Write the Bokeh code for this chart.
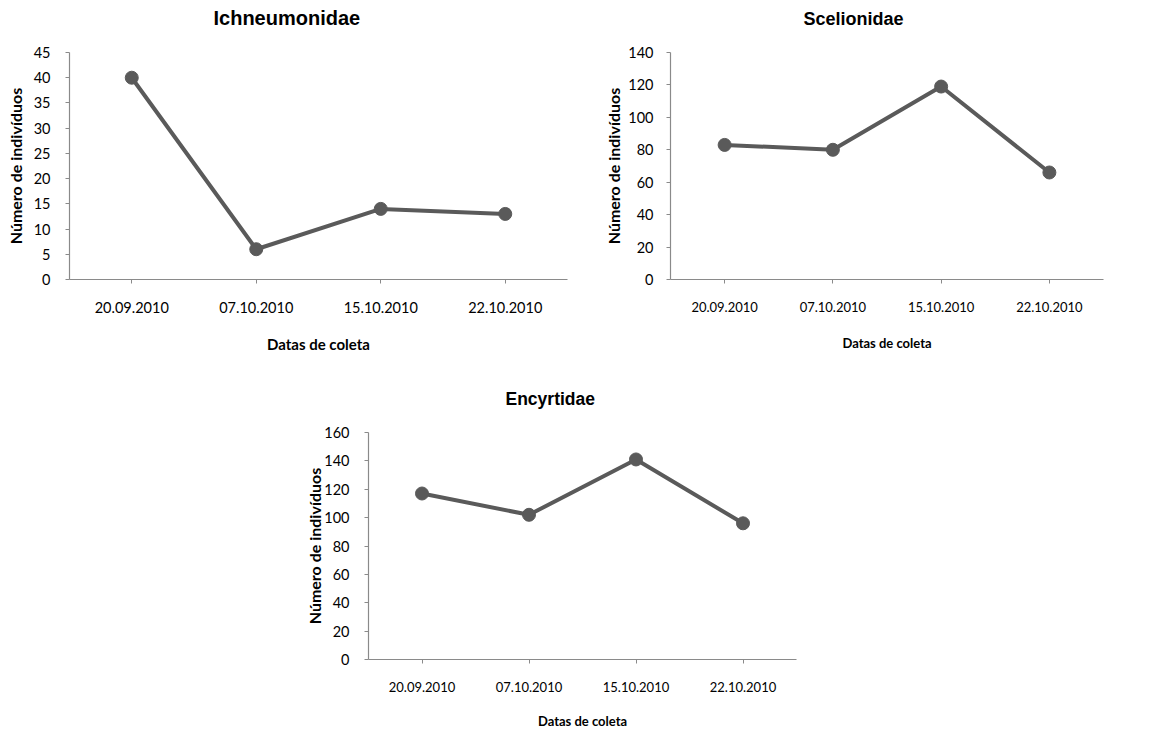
from bokeh.plotting import figure
from bokeh.layouts import column, row
from bokeh.models import Range1d, FixedTicker, Spacer, FactorRange
from bokeh.embed import file_html
from bokeh.resources import INLINE

# ---- data ----
dates = ["20.09.2010", "07.10.2010", "15.10.2010", "22.10.2010"]
ichneumonidae = [40, 6, 14, 13]
scelionidae = [83, 80, 119, 66]
encyrtidae = [117, 102, 141, 96]

titles = ["Ichneumonidae", "Scelionidae", "Encyrtidae"]
y_max = [45, 140, 160]
y_step = [5, 20, 20]

LINE = "#5a5a5a"
AXIS = "#8a8a8a"


def make(title, values, ymax, ystep, width, height, bl, br, bt, bb,
         tick_std, lab_std, title_off, title_size="20px",
         xtick_size="14.5px", xlab_size="15px", xtick_std=18, xlab_std=19,
         margin=None):
    kw = {}
    if margin is not None:
        kw["margin"] = margin
    p = figure(width=width, height=height, x_range=FactorRange(*dates),
               y_range=Range1d(0, ymax), output_backend="svg",
               toolbar_location=None,
               min_border_left=bl, min_border_right=br,
               min_border_top=bt, min_border_bottom=bb, **kw)
    p.title.text = title
    p.title.align = "left"
    p.title.offset = title_off
    p.title.standoff = 48
    p.title.text_font = "Liberation Sans"
    p.title.text_font_size = title_size
    p.title.text_font_style = "bold"
    p.title.text_color = "#000000"
    p.outline_line_color = None
    p.xgrid.grid_line_color = None
    p.ygrid.grid_line_color = None

    p.line(dates, values, line_color=LINE, line_width=4)
    p.scatter(dates, values, size=13, fill_color=LINE, line_color=LINE)

    p.yaxis.ticker = FixedTicker(ticks=list(range(0, ymax + 1, ystep)))
    for ax in (p.xaxis[0], p.yaxis[0]):
        ax.axis_line_color = AXIS
        ax.axis_line_width = 1.2
        ax.major_tick_line_color = AXIS
        ax.minor_tick_line_color = None
        ax.major_tick_in = 0
        ax.major_tick_out = 4
        ax.major_label_text_font = "Lato"
        ax.major_label_text_color = "#000000"
        ax.axis_label_text_font = "Lato"
        ax.axis_label_text_font_style = "bold"
        ax.axis_label_text_color = "#000000"
    p.xaxis.major_label_text_font_size = xtick_size
    p.yaxis.major_label_text_font_size = "14.5px"
    p.xaxis.axis_label_text_font_size = xlab_size
    p.yaxis.axis_label_text_font_size = "16px"
    p.xaxis.major_label_standoff = xtick_std
    p.xaxis.axis_label = "Datas de coleta"
    p.xaxis.axis_label_standoff = xlab_std
    p.yaxis.major_label_standoff = tick_std
    p.yaxis.axis_label = "Número de indivíduos"
    p.yaxis.axis_label_standoff = lab_std
    return p


p1 = make(titles[0], ichneumonidae, y_max[0], y_step[0], 600, 377, 69, 33, 73, 77,
          15, 6, 144, margin=(-21, 0, 0, 0))
p2 = make(titles[1], scelionidae, y_max[1], y_step[1], 570, 377, 70, 67, 73, 77,
          13, 2, 133, title_size="18px", xtick_size="13px", xlab_size="13px",
          xtick_std=18, xlab_std=20, margin=(-21, 0, 0, 0))
p3 = make(titles[2], encyrtidae, y_max[2], y_step[2], 566, 375, 78, 60, 76, 72,
          15, -3, 137, title_size="17.5px", xtick_size="13px", xlab_size="13px",
          xtick_std=18, xlab_std=18)

layout = column(row(p1, p2), row(Spacer(width=290, height=375), p3))

open("out.html", "w").write(file_html(layout, INLINE))
